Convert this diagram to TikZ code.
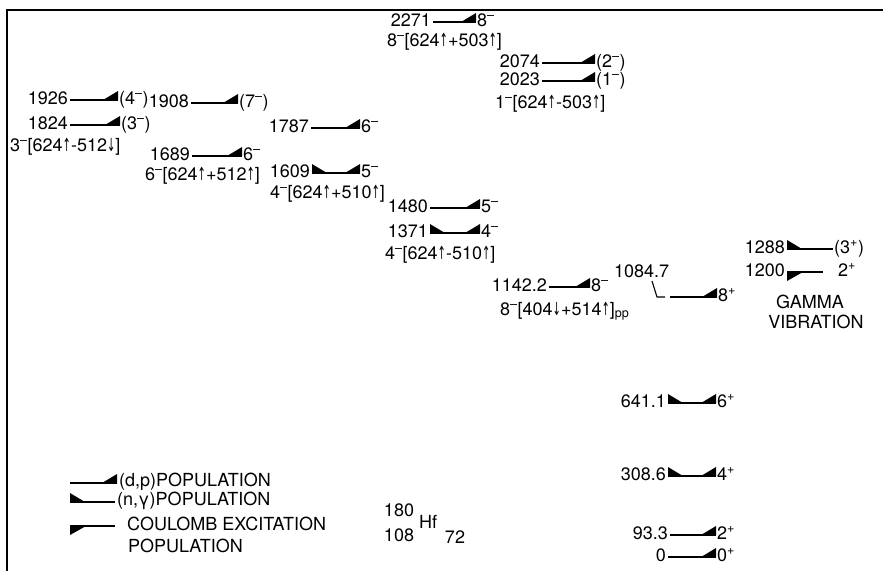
\documentclass[tikz,border=0pt]{standalone}
\usepackage{fontspec}
\usepackage{graphicx}
\setmainfont{TeX Gyre Heros}
\newfontfamily\arrfont{DejaVu Sans}
\newcommand\myUp{\scalebox{0.55}[1]{\arrfont ↑}}
\newcommand\myDn{\scalebox{0.55}[1]{\arrfont ↓}}
\newcommand\myMi{\textsuperscript{–}}
\newcommand\myPl{\textsuperscript{+}}
\newcommand\myLv[6]{%
  \coordinate (#1-l) at (#3,#2);
  \coordinate (#1-r) at (#4,#2);
  \node[elab] (#1-e) at ([xshift=-2pt,yshift=-4pt]#1-l) {#5};
  \node[slab] (#1-s) at ([xshift=1pt,yshift=-4pt]#1-r) {#6};
  \draw[lvline] (#1-l) -- (#1-r);}
\newcommand\wDP[1]{\fill (#1-r) -- ++(0,-9) -- ++(-15,9) -- cycle;}
\newcommand\wNG[1]{\fill (#1-l) -- ++(0,-9) -- ++(15,9) -- cycle;}
\newcommand\wCE[1]{\fill (#1-l) -- ++(0,9) -- ++(16,-9) -- cycle;}
\tikzset{
  every node/.style={font=\fontsize{18}{21}\selectfont, inner sep=0pt},
  elab/.style={anchor=base east},
  slab/.style={anchor=base west},
  conf/.style={anchor=base west},
  lvline/.style={line width=1.1pt},
  frameline/.style={line width=1.4pt}
}
\begin{document}
\begin{tikzpicture}[x=1pt,y=-1pt]
\useasboundingbox (0,0) rectangle (883,571);
\coordinate (f1) at (7,571);
\coordinate (f2) at (7,10);
\coordinate (f3) at (883,10);
\draw[frameline] (f1) -- (f2) -- (f3);

% left group
\myLv{a}{100}{70}{118}{1926}{(4\myMi)}\wDP{a}
\myLv{b}{103}{191}{238}{1908}{(7\myMi)}\wDP{b}
\myLv{c}{125}{70}{120}{1824}{(3\myMi)}\wDP{c}
\node[conf] (cc) at (10,151) {3\myMi[624\myUp-512\myDn]};
\myLv{d}{128}{311}{360}{1787}{6\myMi}\wDP{d}
\myLv{e}{156}{192}{242}{1689}{6\myMi}\wDP{e}
\node[conf] (ec) at (145,180) {6\myMi[624\myUp+512\myUp]};
\myLv{f}{173}{312}{360}{1609}{5\myMi}\wNG{f}\wDP{f}
\node[conf] (fc) at (270,198) {4\myMi[624\myUp+510\myUp]};
\myLv{g}{208}{430}{480}{1480}{5\myMi}\wDP{g}
\myLv{h}{233}{430}{480}{1371}{4\myMi}\wNG{h}\wDP{h}
\node[conf] (hc) at (385,259) {4\myMi[624\myUp-510\myUp]};

% top group
\myLv{i}{22}{433}{476}{2271}{8\myMi}\wDP{i}
\node[conf] (ic) at (387,46) {8\myMi[624\myUp+503\myUp]};
\myLv{j}{63}{542}{595}{2074}{(2\myMi)}\wDP{j}
\myLv{k}{81}{542}{595}{2023}{(1\myMi)}\wDP{k}
\node[conf] (kc) at (495,108) {1\myMi[624\myUp-503\myUp]};

% K=8 bands
\myLv{m}{287}{549}{590}{1142.2}{8\myMi}\wDP{m}
\node[conf] (mc) at (500,315) {8\myMi[404\myDn+514\myUp]\textsubscript{pp}};
\node[anchor=base west] (ne) at (614,277) {1084.7};
\coordinate (nl1) at (652,281);
\coordinate (nl2) at (657,297);
\coordinate (nl3) at (665,297);
\draw[lvline] (nl1) -- (nl2) -- (nl3);
\coordinate (n-l) at (670,297);
\coordinate (n-r) at (717,297);
\draw[lvline] (n-l) -- (n-r);
\wDP{n}
\node[slab] (n-s) at ([xshift=1pt,yshift=-4pt]n-r) {8\myPl};

% gamma vibration
\myLv{p}{249}{787}{833}{1288}{(3\myPl)}\wNG{p}
\myLv{q}{272}{787}{823}{1200}{\hspace{14pt}2\myPl}\wCE{q}
\node (gam) at (810,302) {GAMMA};
\node (vib) at (816,322) {VIBRATION};

% ground band
\myLv{r}{403}{668}{716}{641.1}{6\myPl}\wNG{r}\wDP{r}
\myLv{s}{476}{668}{716}{308.6}{4\myPl}\wNG{s}\wDP{s}
\myLv{t}{535}{670}{716}{93.3}{2\myPl}\wDP{t}
\myLv{u}{557}{668}{716}{0}{0\myPl}\wDP{u}

% legend
\coordinate (L1-l) at (70,483); \coordinate (L1-r) at (117,483);
\draw[lvline] (L1-l) -- (L1-r); \wDP{L1}
\node[anchor=west] (L1t) at (119,482) {(d,p)POPULATION};
\coordinate (L2-l) at (70,502); \coordinate (L2-r) at (115,502);
\draw[lvline] (L2-l) -- (L2-r); \wNG{L2}
\node[anchor=west] (L2t) at (117,501) {(n,γ)POPULATION};
\coordinate (L3-l) at (70,526); \coordinate (L3-r) at (115,526);
\draw[lvline] (L3-l) -- (L3-r); \wCE{L3}
\node[anchor=west] (L3t) at (127,524) {COULOMB EXCITATION};
\node[anchor=west] (L4t) at (128,546) {POPULATION};

% nucleus
\node (n180) at (399,510) {180};
\node (n108) at (399,535) {108};
\node (nhf) at (428,522) {Hf};
\node (n72) at (455,537) {72};
\end{tikzpicture}
\end{document}
